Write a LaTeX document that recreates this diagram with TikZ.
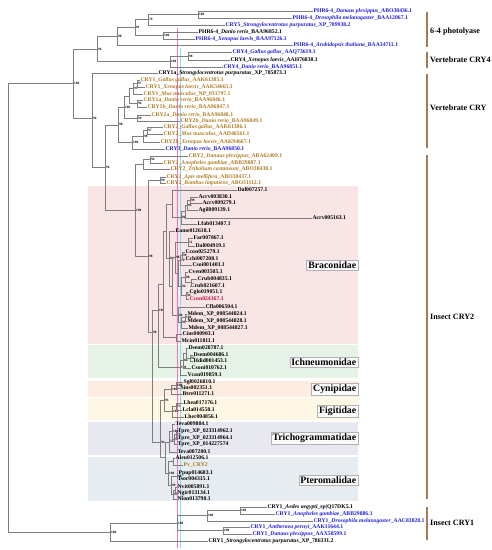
\documentclass[tikz,border=0pt]{standalone}
\usepackage{fontspec}
\setmainfont{Liberation Serif}
\definecolor{lb}{HTML}{1E1EE0}
\definecolor{lo}{HTML}{B07A22}
\definecolor{lr}{HTML}{C0103A}
\definecolor{brgray}{HTML}{7E7E7E}
\definecolor{brk}{HTML}{A57A5A}
\definecolor{cbra}{HTML}{F9E5E5}
\definecolor{cich}{HTML}{E7F3E7}
\definecolor{ccyn}{HTML}{FCEDE0}
\definecolor{cfig}{HTML}{FDF7E3}
\definecolor{ctri}{HTML}{E8E8F1}
\definecolor{cpte}{HTML}{E6ECF0}
\newcommand\ed[2]{\draw[br] (#1) |- (#2);}
\newcommand\inode[4]{\coordinate (#1) at (#2,#3); \node[bs] at (#2,#3) {#4};}
\begin{document}
\begin{tikzpicture}[x=1pt,y=-1pt,
  br/.style={draw=brgray,line width=0.6pt},
  lf/.style={anchor=west,inner sep=0.4pt,font=\fontsize{5.7}{6}\selectfont\bfseries},
  bs/.style={anchor=west,inner sep=0.3pt,xshift=0.6pt,font=\fontsize{3.4}{3.6}\selectfont\bfseries},
  clab/.style={anchor=east,draw=gray!60,fill=gray!4,inner sep=1.6pt,font=\fontsize{9.8}{11}\selectfont\bfseries},
  grp/.style={anchor=west,inner sep=0pt,font=\fontsize{8.1}{9}\selectfont\bfseries},
  brak/.style={draw=brk,line width=1.5pt}]
\useasboundingbox (0,0) rectangle (492,550);
% clade backgrounds
\fill[cbra] (88,186) rectangle (358,344);
\fill[cich] (88,345) rectangle (358,378);
\fill[ccyn] (88,381) rectangle (358,397);
\fill[cfig] (88,398) rectangle (358,420);
\fill[ctri] (88,422) rectangle (358,455);
\fill[cpte] (88,457) rectangle (358,501);
% guide lines
\draw[magenta!55,line width=0.7pt] (177.5,28) -- (177.5,548);
\draw[cyan!45,line width=0.7pt] (180.5,48) -- (180.5,548);
% leaves
\node[lf,text=lb] (L1) at (313,11) {PHR6-4\_\textit{Danaus plexippus}\_ABO38436.1};
\node[lf,text=lb] (L2) at (292,18) {PHR6-4\_\textit{Drosophila melanogaster}\_BAA12067.1};
\node[lf,text=lb] (L3) at (225,25) {CRY5\_\textit{Strongylocentrotus purpuratus}\_XP\_789938.2};
\node[lf] (L4) at (198,32) {PHR6-4\_\textit{Danio rerio}\_BAA96852.1};
\node[lf,text=lb] (L5) at (195,39) {PHR6-4\_\textit{Xenopus laevis}\_BAA97126.1};
\node[lf,text=lb] (L6) at (293,45) {PHR6-4\_\textit{Arabidopsis thaliana}\_BAA34711.1};
\node[lf,text=lb] (L7) at (232,52) {CRY4\_\textit{Gallus gallus}\_AAQ73619.1};
\node[lf] (L8) at (230,60) {CRY4\_\textit{Xenopus laevis}\_AAH76838.1};
\node[lf,text=lb] (L9) at (223,67) {CRY4\_\textit{Danio rerio}\_BAA96851.1};
\node[lf] (L10) at (158,73) {CRY1a\_\textit{Strongylocentrotus purpuratus}\_XP\_785873.3};
\node[lf,text=lo] (L11) at (140,80) {CRY1\_\textit{Gallus gallus}\_AAK61385.1};
\node[lf,text=lo] (L12) at (145,87) {CRY1\_\textit{Xenopus laevis}\_AAK54665.1};
\node[lf,text=lo] (L13) at (143,94) {CRY1\_\textit{Mus musculus}\_NP\_031797.1};
\node[lf,text=lo] (L14) at (143,100) {CRY1a\_\textit{Danio rerio}\_BAA96846.1};
\node[lf,text=lo] (L15) at (147,107) {CRY1b\_\textit{Danio rerio}\_BAA96847.1};
\node[lf,text=lo] (L16) at (151,115) {CRY2a\_\textit{Danio rerio}\_BAA96848.1};
\node[lf,text=lo] (L17) at (180,121) {CRY2b\_\textit{Danio rerio}\_BAA96849.1};
\node[lf,text=lo] (L18) at (163,127) {CRY2\_\textit{Gallus gallus}\_AAK61386.1};
\node[lf,text=lo] (L19) at (163,134) {CRY2\_\textit{Mus musculus}\_AAD46561.1};
\node[lf,text=lo] (L20) at (160,142) {CRY2b\_\textit{Xenopus laevis}\_AAK94667.1};
\node[lf,text=lb] (L21) at (165,149) {CRY3\_\textit{Danio rerio}\_BAA96850.1};
\node[lf,text=lo] (L22) at (188,156) {CRY2\_\textit{Danaus plexippus}\_ABA62409.1};
\node[lf,text=lo] (L23) at (163,163) {CRY2\_\textit{Anopheles gambiae}\_ABB29887.1};
\node[lf,text=lo] (L24) at (170,169) {CRY2\_\textit{Tribolium castaneum}\_ABO38438.1};
\node[lf,text=lo] (L25) at (166,177) {CRY2\_\textit{Apis mellifera}\_ABO38437.1};
\node[lf,text=lo] (L26) at (166,183) {CRY2\_\textit{Bombus impatiens}\_ABO31112.1};
\node[lf] (L27) at (237,190) {Dal007257.1};
\node[lf] (L28) at (198,197) {Acrv003830.1};
\node[lf] (L29) at (202,203) {Acrv009279.1};
\node[lf] (L30) at (198,210) {Agil009139.1};
\node[lf] (L31) at (312,218) {Acrv005163.1};
\node[lf] (L32) at (197,224) {Lfab013407.1};
\node[lf] (L33) at (175,231) {Eame012618.1};
\node[lf] (L34) at (193,238) {Far007867.1};
\node[lf] (L35) at (195,246) {Dal004919.1};
\node[lf] (L36) at (185,252) {Ccon025279.1};
\node[lf] (L37) at (185,259) {Cchi007208.1};
\node[lf] (L38) at (192,265) {Csoi001403.1};
\node[lf] (L39) at (188,272) {Cven003505.1};
\node[lf] (L40) at (197,279) {Crub004835.1};
\node[lf] (L41) at (190,286) {Crub021607.1};
\node[lf] (L42) at (189,292) {Cglo019051.1};
\node[lf,text=lr] (L43) at (189,299) {Ccon024167.1};
\node[lf] (L44) at (205,307) {Cfla006504.1};
\node[lf] (L45) at (187,314) {Mdem\_XP\_008544824.1};
\node[lf] (L46) at (187,321) {Mdem\_XP\_008544828.1};
\node[lf] (L47) at (188,328) {Mdem\_XP\_008544827.1};
\node[lf] (L48) at (182,334) {Cins000903.1};
\node[lf] (L49) at (181,341) {Mcin011811.1};
\node[lf] (L50) at (188,348) {Dsem028787.1};
\node[lf] (L51) at (193,355) {Dsem004686.1};
\node[lf] (L52) at (193,361) {Hdid001453.1};
\node[lf] (L53) at (191,368) {Csoni010762.1};
\node[lf] (L54) at (187,375) {Vcan019859.1};
\node[lf] (L55) at (183,382) {Sgl0026810.1};
\node[lf] (L56) at (180,388) {Sins002351.1};
\node[lf] (L57) at (182,394) {Btre011271.1};
\node[lf] (L58) at (183,403) {Lhea017176.1};
\node[lf] (L59) at (182,410) {Lcla014550.1};
\node[lf] (L60) at (184,417) {Lher004856.1};
\node[lf] (L61) at (175,424) {Teva009884.1};
\node[lf] (L62) at (177,431) {Tpre\_XP\_023314962.1};
\node[lf] (L63) at (177,438) {Tpre\_XP\_023314964.1};
\node[lf] (L64) at (177,444) {Tpre\_XP\_014227574};
\node[lf] (L65) at (177,452) {Teva007200.1};
\node[lf] (L66) at (175,458) {Aleu012506.1};
\node[lf,text=lo] (L67) at (183,465) {Pv\_CRY2};
\node[lf] (L68) at (178,473) {Ppup014683.1};
\node[lf] (L69) at (177,479) {Tsor004315.1};
\node[lf] (L70) at (177,487) {Nvit005891.1};
\node[lf] (L71) at (177,493) {Ngir013134.1};
\node[lf] (L72) at (177,499) {Nlon013790.1};
\node[lf] (L73) at (267,507) {CRY1\_\textit{Aedes aegypti}\_sp|Q17DK5.1};
\node[lf,text=lb] (L74) at (275,514) {CRY1\_\textit{Anopheles gambiae}\_ABB29886.1};
\node[lf,text=lb] (L75) at (313,521) {CRY1\_\textit{Drosophila melanogaster}\_AAC83828.1};
\node[lf,text=lb] (L76) at (250,527) {CRY1\_\textit{Antheraea pernyi}\_AAK11644.1};
\node[lf,text=lb] (L77) at (252,534) {CRY1\_\textit{Danaus plexippus}\_AAX58599.1};
\node[lf] (L78) at (208,541) {CRY1\_\textit{Strongylocentrotus purpuratus}\_XP\_786331.2};
% internal nodes
\inode{n1}{198}{14.5}{100}
\inode{n2}{148}{19.75}{76}
\inode{n3}{163}{35.5}{100}
\inode{n4}{135}{27.6}{81}
\inode{n5}{117}{36.3}{98}
\inode{c1}{188}{56}{98}
\inode{c2}{170}{61.5}{100}
\inode{nT}{97}{48.9}{96}
\inode{U}{73}{83}{100}
\inode{v1}{137}{83.5}{97}
\inode{v2}{133}{88.75}{93}
\inode{v3}{137}{103.5}{96}
\inode{v4}{129}{96.1}{}
\inode{v5}{137}{118}{99}
\inode{v6}{124}{107}{100}
\inode{v7}{147}{130.5}{97}
\inode{v8}{143}{136.25}{98}
\inode{v9}{132}{142.6}{100}
\inode{VC}{118}{124.8}{98}
\inode{i1}{150}{159.5}{96}
\inode{i2}{143}{164.25}{}
\inode{ab}{160}{180}{99}
% braconidae
\inode{B1}{190}{200}{99}
\inode{B2}{187}{205}{96}
\inode{B3}{185}{211.5}{}
\inode{B4}{181}{217.75}{96}
\inode{B5}{172}{203.9}{}
\inode{B6}{188}{242}{51}
\inode{B7}{182}{255.5}{99}
\inode{B8}{180}{260.25}{72}
\inode{B9}{191}{282.5}{}
\inode{B10}{185}{277.25}{98}
\inode{B11}{186}{295.5}{94}
\inode{B12}{181}{286.4}{94}
\inode{B13}{178}{273.3}{}
\inode{B14}{175}{257.6}{98}
\inode{B15}{185}{317.5}{100}
\inode{B16}{181}{322.75}{99}
\inode{B17}{178}{314.9}{86}
\inode{B18}{172}{286.3}{}
\inode{B19}{169}{258.6}{84}
\inode{B20}{166}{231.3}{}
\inode{B21}{176}{337.5}{}
\inode{BR}{163}{284.4}{}
% ichneumonidae
\inode{I1}{190}{358}{95}
\inode{I2}{186}{353}{}
\inode{I3}{183}{360.5}{84}
\inode{I4}{180}{367.75}{100}
\inode{BI}{158}{310}{100}
% cynipoidea
\inode{C1}{176}{385}{100}
\inode{C2}{171}{389.5}{100}
\inode{F1}{176}{406.5}{73}
\inode{F2}{172}{411.75}{100}
\inode{CF}{164}{400}{95}
% chalcidoidea
\inode{T1}{176}{434.5}{71}
\inode{T2}{174}{439.25}{97}
\inode{T3}{172}{431.6}{100}
\inode{T4}{169}{441.8}{54}
\inode{P1}{177}{476}{99}
\inode{P2}{175}{490}{}
\inode{P3}{173}{494.5}{97}
\inode{P4}{171}{485.25}{99}
\inode{P5}{173}{461.5}{}
\inode{P6}{168}{473.4}{100}
\inode{TP}{165}{457.6}{}
\inode{CH}{160}{442}{94}
\inode{X}{152}{332}{98}
\inode{H}{148}{256}{98}
\inode{I0}{135}{210}{100}
\inode{W}{105}{167.4}{96}
\inode{V}{92}{118}{96}
% cry1
\inode{K1}{240}{510.5}{100}
\inode{K2}{207}{515.75}{100}
\inode{K3}{223}{530.5}{100}
\inode{K4}{177}{523.1}{100}
\inode{KR}{110}{532}{100}
\coordinate (R) at (8,307.5);
% edges
\ed{n1}{L1.west}\ed{n1}{L2.west}
\ed{n2}{n1}\ed{n2}{L3.west}
\ed{n3}{L4.west}\ed{n3}{L5.west}
\ed{n4}{n2}\ed{n4}{n3}
\ed{n5}{n4}\ed{n5}{L6.west}
\ed{c1}{L7.west}\ed{c1}{L8.west}
\ed{c2}{c1}\ed{c2}{L9.west}
\ed{nT}{n5}\ed{nT}{c2}
\ed{U}{nT}\ed{U}{V}
\ed{V}{L10.west}\ed{V}{W}
\ed{v1}{L11.west}\ed{v1}{L12.west}
\ed{v2}{v1}\ed{v2}{L13.west}
\ed{v3}{L14.west}\ed{v3}{L15.west}
\ed{v4}{v2}\ed{v4}{v3}
\ed{v5}{L16.west}\ed{v5}{L17.west}
\ed{v6}{v4}\ed{v6}{v5}
\ed{v7}{L18.west}\ed{v7}{L19.west}
\ed{v8}{v7}\ed{v8}{L20.west}
\ed{v9}{v8}\ed{v9}{L21.west}
\ed{VC}{v6}\ed{VC}{v9}
\ed{W}{VC}\ed{W}{I0}
\ed{i1}{L22.west}\ed{i1}{L23.west}
\ed{i2}{i1}\ed{i2}{L24.west}
\ed{ab}{L25.west}\ed{ab}{L26.west}
\ed{I0}{i2}\ed{I0}{H}
\ed{H}{ab}\ed{H}{X}
\ed{B1}{L28.west}\ed{B1}{L29.west}
\ed{B2}{B1}\ed{B2}{L30.west}
\ed{B3}{B2}\ed{B3}{L31.west}
\ed{B4}{B3}\ed{B4}{L32.west}
\ed{B5}{L27.west}\ed{B5}{B4}
\ed{B6}{L34.west}\ed{B6}{L35.west}
\ed{B7}{L36.west}\ed{B7}{L37.west}
\ed{B8}{B7}\ed{B8}{L38.west}
\ed{B9}{L40.west}\ed{B9}{L41.west}
\ed{B10}{L39.west}\ed{B10}{B9}
\ed{B11}{L42.west}\ed{B11}{L43.west}
\ed{B12}{B10}\ed{B12}{B11}
\ed{B13}{B8}\ed{B13}{B12}
\ed{B14}{B6}\ed{B14}{B13}
\ed{B15}{L45.west}\ed{B15}{L46.west}
\ed{B16}{B15}\ed{B16}{L47.west}
\ed{B17}{L44.west}\ed{B17}{B16}
\ed{B18}{B14}\ed{B18}{B17}
\ed{B19}{L33.west}\ed{B19}{B18}
\ed{B20}{B5}\ed{B20}{B19}
\ed{B21}{L48.west}\ed{B21}{L49.west}
\ed{BR}{B20}\ed{BR}{B21}
\ed{I1}{L51.west}\ed{I1}{L52.west}
\ed{I2}{L50.west}\ed{I2}{I1}
\ed{I3}{I2}\ed{I3}{L53.west}
\ed{I4}{I3}\ed{I4}{L54.west}
\ed{BI}{BR}\ed{BI}{I4}
\ed{C1}{L55.west}\ed{C1}{L56.west}
\ed{C2}{C1}\ed{C2}{L57.west}
\ed{F1}{L58.west}\ed{F1}{L59.west}
\ed{F2}{F1}\ed{F2}{L60.west}
\ed{CF}{C2}\ed{CF}{F2}
\ed{T1}{L62.west}\ed{T1}{L63.west}
\ed{T2}{T1}\ed{T2}{L64.west}
\ed{T3}{L61.west}\ed{T3}{T2}
\ed{T4}{T3}\ed{T4}{L65.west}
\ed{P1}{L68.west}\ed{P1}{L69.west}
\ed{P2}{L70.west}\ed{P2}{L71.west}
\ed{P3}{P2}\ed{P3}{L72.west}
\ed{P4}{P1}\ed{P4}{P3}
\ed{P5}{L66.west}\ed{P5}{L67.west}
\ed{P6}{P5}\ed{P6}{P4}
\ed{TP}{T4}\ed{TP}{P6}
\ed{CH}{CF}\ed{CH}{TP}
\ed{X}{BI}\ed{X}{CH}
\ed{K1}{L73.west}\ed{K1}{L74.west}
\ed{K2}{K1}\ed{K2}{L75.west}
\ed{K3}{L76.west}\ed{K3}{L77.west}
\ed{K4}{K2}\ed{K4}{K3}
\ed{KR}{K4}\ed{KR}{L78.west}
\ed{R}{U}\ed{R}{KR}
% family labels
\node[clab] (fBra) at (358,265) {Braconidae};
\node[clab] (fIch) at (358,362) {Ichneumonidae};
\node[clab] (fCyn) at (358,389) {Cynipidae};
\node[clab] (fFig) at (358,411) {Figitidae};
\node[clab] (fTri) at (358,438) {Trichogrammatidae};
\node[clab] (fPte) at (358,480) {Pteromalidae};
% group brackets
\draw[brak] (427,12) -- (427,47);
\draw[brak] (427,52) -- (427,68);
\draw[brak] (427,74) -- (427,148);
\draw[brak] (427,155) -- (427,499);
\draw[brak] (427,507) -- (427,540);
\node[grp] (g1) at (430,32) {6-4 photolyase};
\node[grp] (g2) at (430,60) {Vertebrate CRY4};
\node[grp] (g3) at (430,108) {Vertebrate CRY};
\node[grp] (g4) at (430,317) {Insect CRY2};
\node[grp] (g5) at (430,523) {Insect CRY1};
\end{tikzpicture}
\end{document}
